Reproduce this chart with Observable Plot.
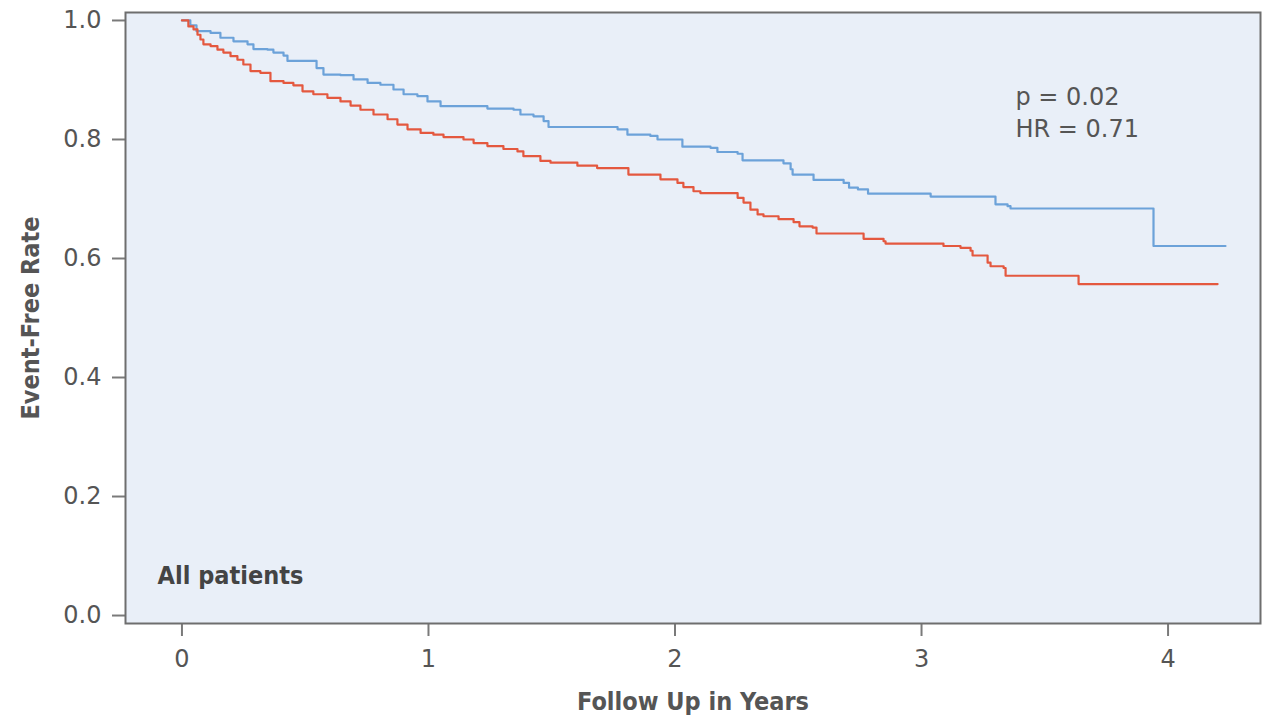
<!DOCTYPE html>
<html><head><meta charset="utf-8">
<script src="https://cdn.jsdelivr.net/npm/d3@7"></script>
<script src="https://cdn.jsdelivr.net/npm/@observablehq/plot@0.6"></script>
<style>body{margin:0;background:#fff}</style>
</head><body><div id="chart"></div>
<script>
// Blue group (upper curve)
const blueTime = [0, 0.034, 0.059, 0.116, 0.156, 0.209, 0.266, 0.290, 0.347, 0.371, 0.412, 0.428, 0.546, 0.574, 0.643, 0.696, 0.753, 0.805, 0.858, 0.899, 0.955, 0.996, 1.049, 1.239, 1.345, 1.373, 1.426, 1.467, 1.487, 1.767, 1.807, 1.900, 1.929, 2.030, 2.144, 2.172, 2.254, 2.274, 2.440, 2.469, 2.477, 2.562, 2.684, 2.706, 2.742, 2.783, 3.037, 3.300, 3.349, 3.361, 3.941, 4.233];
const blueRate = [1.000, 0.992, 0.982, 0.979, 0.971, 0.965, 0.960, 0.952, 0.951, 0.946, 0.941, 0.932, 0.920, 0.909, 0.908, 0.901, 0.895, 0.892, 0.884, 0.876, 0.873, 0.864, 0.856, 0.852, 0.850, 0.842, 0.839, 0.831, 0.821, 0.817, 0.808, 0.806, 0.800, 0.788, 0.786, 0.779, 0.776, 0.765, 0.760, 0.750, 0.741, 0.732, 0.727, 0.719, 0.716, 0.709, 0.704, 0.691, 0.688, 0.684, 0.621, 0.621];
// Red group (lower curve)
const redTime = [0, 0.026, 0.047, 0.063, 0.075, 0.087, 0.116, 0.144, 0.168, 0.197, 0.225, 0.249, 0.278, 0.318, 0.359, 0.412, 0.452, 0.489, 0.533, 0.590, 0.643, 0.684, 0.724, 0.777, 0.834, 0.874, 0.915, 0.968, 1.020, 1.061, 1.142, 1.183, 1.239, 1.304, 1.361, 1.385, 1.454, 1.495, 1.604, 1.684, 1.811, 1.941, 2.010, 2.034, 2.075, 2.103, 2.254, 2.278, 2.306, 2.335, 2.359, 2.420, 2.481, 2.505, 2.558, 2.574, 2.765, 2.846, 2.854, 3.089, 3.158, 3.199, 3.207, 3.268, 3.280, 3.333, 3.341, 3.637, 4.201];
const redRate = [1.000, 0.990, 0.985, 0.976, 0.968, 0.960, 0.957, 0.951, 0.946, 0.940, 0.934, 0.926, 0.915, 0.912, 0.898, 0.895, 0.891, 0.881, 0.876, 0.870, 0.864, 0.857, 0.850, 0.842, 0.834, 0.825, 0.817, 0.811, 0.808, 0.804, 0.800, 0.794, 0.789, 0.784, 0.780, 0.772, 0.764, 0.761, 0.756, 0.752, 0.741, 0.733, 0.727, 0.720, 0.713, 0.710, 0.702, 0.694, 0.682, 0.674, 0.671, 0.666, 0.661, 0.654, 0.652, 0.642, 0.633, 0.629, 0.625, 0.621, 0.618, 0.613, 0.605, 0.593, 0.587, 0.584, 0.571, 0.557, 0.557];

const xTicks = [0, 1, 2, 3, 4];
const yTicks = [0, 0.2, 0.4, 0.6, 0.8, 1.0];
const xLabel = "Follow Up in Years";
const yLabel = "Event-Free Rate";
const statTexts = ["p = 0.02", "HR = 0.71"];
const statX = [3.381, 3.381];
const statY = [0.871, 0.817];
const panelText = ["All patients"];
const panelX = [-0.099];
const panelY = [0.067];

const blue = blueTime.map((t, i) => ({t, s: blueRate[i]}));
const red = redTime.map((t, i) => ({t, s: redRate[i]}));
const stats = statTexts.map((text, i) => ({text, x: statX[i], y: statY[i]}));
const panel = panelText.map((text, i) => ({text, x: panelX[i], y: panelY[i]}));

const condensed = "'DejaVu Sans Condensed', 'Liberation Sans Narrow', 'DejaVu Sans', sans-serif";

const chart = Plot.plot({
  width: 1264, height: 717,
  marginLeft: 125, marginRight: 4, marginTop: 12, marginBottom: 94,
  x: {domain: [-0.229, 4.375]},
  y: {domain: [-0.0134, 1.0134]},
  style: {fontFamily: "'DejaVu Sans', sans-serif", fontSize: "24px", color: "#555", background: "white", overflow: "visible"},
  marks: [
    Plot.frame({fill: "#e9eff8"}),
    Plot.axisY(yTicks, {tickFormat: d => d.toFixed(1), tickSize: 13, tickPadding: 11, strokeWidth: 2, stroke: "#7a7a7a", fill: "#555", label: null, fontSize: 24}),
    Plot.axisX(xTicks, {tickFormat: d => String(d), tickSize: 13, tickPadding: 13, strokeWidth: 2, stroke: "#7a7a7a", fill: "#555", label: null, fontSize: 24}),
    Plot.line(blue, {x: "t", y: "s", curve: "step-after", stroke: "#6ca2d9", strokeWidth: 2.2}),
    Plot.line(red, {x: "t", y: "s", curve: "step-after", stroke: "#e4583f", strokeWidth: 2.2}),
    Plot.frame({stroke: "#6e6e6e", strokeWidth: 2}),
    Plot.text([yLabel], {text: d => d, frameAnchor: "left", textAnchor: "middle", dx: -95, rotate: -90, fontFamily: condensed, fontWeight: "bold", fontSize: 25, fill: "#555"}),
    Plot.text([xLabel], {text: d => d, frameAnchor: "bottom", dy: 86, fontFamily: condensed, fontWeight: "bold", fontSize: 25, fill: "#555"}),
    Plot.text(stats, {x: "x", y: "y", text: "text", textAnchor: "start", fontSize: 24, fill: "#555"}),
    Plot.text(panel, {x: "x", y: "y", text: "text", textAnchor: "start", fontFamily: condensed, fontWeight: "bold", fontSize: 25, fill: "#444"})
  ]
});
document.getElementById("chart").appendChild(chart);
</script>
</body></html>
